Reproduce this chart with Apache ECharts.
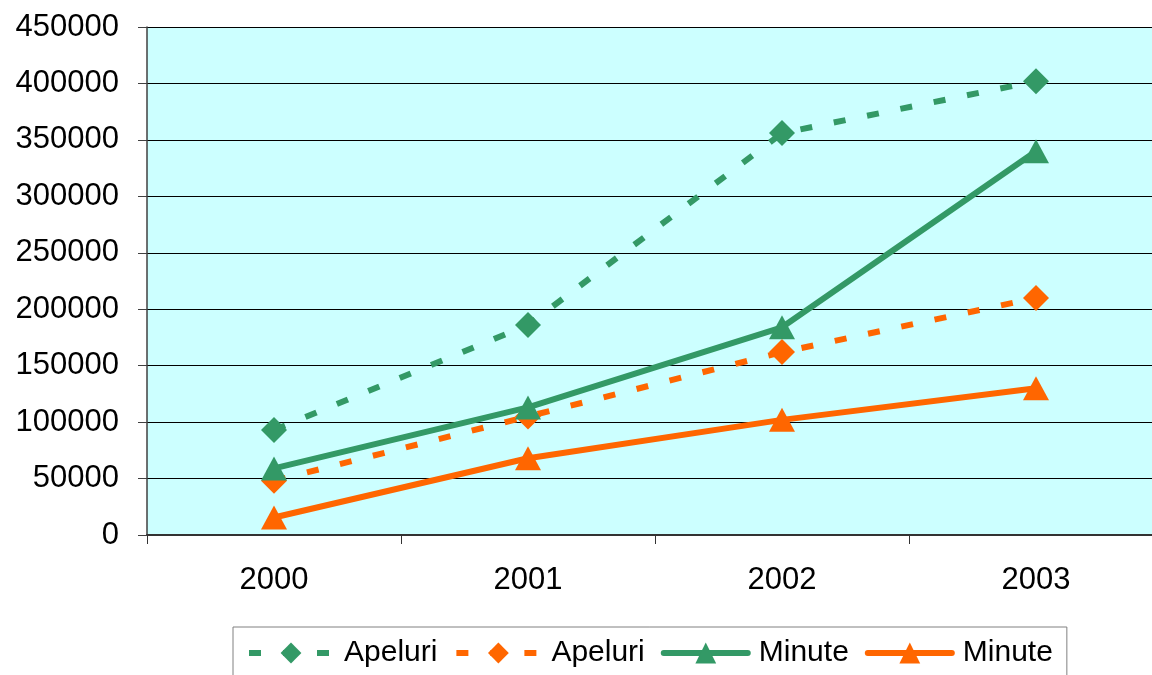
<!DOCTYPE html>
<html><head><meta charset="utf-8">
<script src="https://cdn.jsdelivr.net/npm/echarts@6/dist/echarts.min.js"></script>
<style>html,body{margin:0;padding:0;background:#fff;overflow:hidden}#c{width:1164px;height:675px}</style>
</head><body><div id="c"></div>
<script>
const categories = ['2000', '2001', '2002', '2003'];
const apeluriGreen = [93000, 186000, 356000, 402000];
const apeluriOrange = [48000, 105000, 162000, 210000];
const minuteGreen = [59000, 113000, 184000, 340000];
const minuteOrange = [15500, 68000, 102000, 130000];
const seriesNames = ['Apeluri', 'Apeluri\u200b', 'Minute', 'Minute\u200b'];

const GREEN = '#339966', ORANGE = '#FF6600';
const font = 'Arial, "Liberation Sans", sans-serif';

function mk(name, data, color, dashed, symbol, size) {
  return {
    name, type: 'line', data, symbol, symbolSize: size,
    itemStyle: { color },
    lineStyle: { color, width: 6, type: dashed ? [12, 22] : 'solid', cap: dashed ? 'butt' : 'round' },
    z: dashed ? 2 : 3,
    animation: false
  };
}

const chart = echarts.init(document.getElementById('c'));
chart.setOption({
  animation: false,
  grid: { left: 147, top: 27, right: 1, bottom: 140, show: true, backgroundColor: '#CCFFFF', borderWidth: 0 },
  xAxis: {
    type: 'category', data: categories, boundaryGap: true,
    axisLine: { lineStyle: { color: '#333', width: 2 } },
    axisTick: { show: true, length: 9, inside: false, lineStyle: { color: '#333', width: 1 } },
    axisLabel: { fontSize: 31, color: '#000', fontFamily: font, margin: 30 }
  },
  yAxis: {
    type: 'value', min: 0, max: 450000, interval: 50000,
    axisLine: { show: true, lineStyle: { color: '#404040', width: 1.5 } },
    axisTick: { show: true, length: 9, lineStyle: { color: '#404040' } },
    axisLabel: { fontSize: 31, color: '#000', fontFamily: font, margin: 28, formatter: v => String(v) },
    splitLine: { show: true, lineStyle: { color: '#000', width: 1 } }
  },
  legend: {
    left: 233, top: 627, padding: [11, 14, 10, 13],
    borderColor: '#808080', borderWidth: 1,
    itemWidth: 84, itemHeight: 26, itemGap: 16,
    lineStyle: { width: 6 },
    textStyle: { fontSize: 30, color: '#000', fontFamily: font, padding: [0, 0, 0, 6] },
    data: seriesNames
  },
  series: [
    mk(seriesNames[0], apeluriGreen, GREEN, true, 'diamond', 26),
    mk(seriesNames[1], apeluriOrange, ORANGE, true, 'diamond', 26),
    mk(seriesNames[2], minuteGreen, GREEN, false, 'triangle', [26, 24]),
    mk(seriesNames[3], minuteOrange, ORANGE, false, 'triangle', [26, 24])
  ]
});
</script></body></html>
